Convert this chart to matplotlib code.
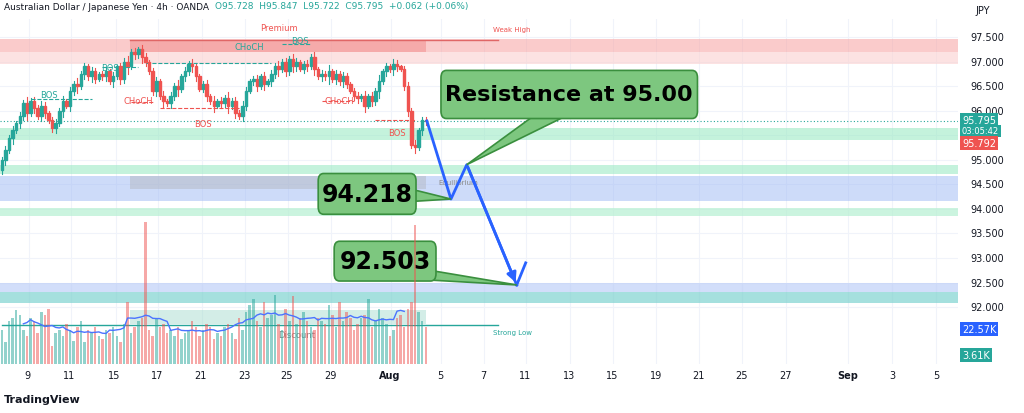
import matplotlib
matplotlib.use("Agg")
import matplotlib.pyplot as plt
from matplotlib.patches import Rectangle, FancyBboxPatch, Polygon
import numpy as np

closes = [95.0, 95.2, 95.45, 95.6, 95.75, 95.9,
          96.15, 95.95, 96.2, 96.05, 95.9, 96.1, 95.95, 95.8,
          95.65, 95.75, 96.0, 96.2, 96.1, 96.4, 96.55, 96.5, 96.75, 96.9,
          96.7, 96.8, 96.65, 96.75, 96.7, 96.8, 96.6, 96.7, 96.9, 96.65,
          97.0, 96.9, 97.2, 97.15, 97.25, 97.1, 97.0,
          96.8, 96.4, 96.6, 96.3, 96.2, 96.15,
          96.3, 96.5, 96.45, 96.7, 96.8, 96.95, 96.9,
          96.7, 96.45, 96.55, 96.3, 96.2, 96.1, 96.2,
          96.15, 96.25, 96.1, 96.2, 95.95, 95.9, 96.1,
          96.4, 96.6, 96.65, 96.5, 96.7, 96.55, 96.6,
          96.75, 96.9, 96.85, 97.0, 96.8, 97.05, 96.9,
          97.0, 96.85, 96.95, 96.9, 97.1, 96.85, 96.7,
          96.75, 96.7, 96.8, 96.65, 96.75, 96.6, 96.7,
          96.55, 96.4, 96.3, 96.25, 96.3, 96.1, 96.3,
          96.2, 96.4, 96.6, 96.8, 96.9, 96.85, 96.95,
          96.9, 96.85, 96.5, 96.0, 95.3, 95.25, 95.6, 95.8, 95.795]
opens = [94.8] + closes[:-1]
wick = [0.08, 0.1, 0.06, 0.12, 0.05, 0.1, 0.08, 0.15, 0.06, 0.1, 0.07, 0.12, 0.09, 0.05]
volumes = [22, 14, 28, 30, 35, 32, 22, 18, 30, 28, 20, 34, 32, 36, 12, 20, 22, 18, 26, 22, 15, 24, 28, 14, 22, 20, 24, 18, 16,
           22, 20, 24, 18, 14, 26, 40, 20, 24, 28, 30, 92, 22, 18, 30, 24, 26, 20, 22, 18, 24, 16, 20, 22, 28, 24, 18, 22, 26,
           24, 16, 20, 18, 24, 26, 20, 16, 30, 22, 34, 38, 42, 28, 24, 40, 30, 32, 45, 26, 22, 36, 28, 44, 26, 30, 34, 28, 24,
           22, 30, 28, 26, 38, 32, 24, 40, 28, 34, 30, 22, 26, 30, 32, 42, 24, 28, 36, 30, 26, 18, 22, 30, 32, 24, 36, 40, 90,
           34, 28, 24, 4]
tick_days = ["9", "11", "15", "17", "21", "23", "25", "29", "Aug", "5", "7", "11", "13", "15", "19", "21", "25", "27", "Sep", "3", "5"]
tick_bars = [7.5, 19.2, 31.7, 43.6, 55.6, 67.8, 79.7, 91.7, 108.3, 122.2, 134.2, 145.8, 158.1, 170, 182.2, 193.9, 206.1, 218.3, 235.6, 247.8, 260]
price_ticks = [92.0, 92.5, 93.0, 93.5, 94.0, 94.5, 95.0, 95.5, 96.0, 96.5, 97.0, 97.5]
target_path_x = [118.3, 125, 129.4, 143.3]
target_path_y = [95.79, 94.2, 94.9, 92.45]

GREEN = "#26a69a"; RED = "#ef5350"
fig = plt.figure(figsize=(10.24, 4.14), dpi=100)
ax = fig.add_axes([0, 1 - 365 / 414, 958 / 1024, 345 / 414])
XMAX = 958 / 3.6
ax.set_xlim(-0.5, XMAX)
ax.set_ylim(90.84, 97.867)
for s in ax.spines.values():
    s.set_visible(False)
ax.set_xticks([]); ax.set_yticks([])
for p in price_ticks:
    ax.axhline(p, color="#f0f3fa", lw=0.8, zorder=0)
for t in tick_bars:
    ax.axvline(t, color="#f0f3fa", lw=0.8, zorder=0)

def zone(x0, x1, y0, y1, c, a, z=1):
    ax.add_patch(Rectangle((x0, y0), x1 - x0, y1 - y0, color=c, alpha=a, lw=0, zorder=z))

zs = 128 / 3.6; ze = 425 / 3.6
zone(-1, XMAX, 97.2, 97.45, "#f7a1a1", 0.55)
zone(zs, ze, 97.2, 97.44, "#f28b8b", 0.5)
zone(-1, XMAX, 96.95, 97.2, "#fbd0d0", 0.6)
ax.plot([zs, 497 / 3.6], [97.44, 97.44], color="#e06666", lw=1, zorder=2)
zone(-1, XMAX, 95.4, 95.65, "#9eeac6", 0.6)
zone(-1, XMAX, 94.7, 94.9, "#9eeac6", 0.6)
zone(-1, XMAX, 94.16, 94.67, "#9db9f5", 0.5)
zone(zs, ze, 94.4, 94.67, "#aaaaaa", 0.35)
zone(-1, XMAX, 93.85, 94.02, "#b6f0d2", 0.7)
zone(-1, XMAX, 92.3, 92.49, "#b4c8f7", 0.6)
zone(-1, XMAX, 92.08, 92.3, "#7fd3d0", 0.7)
zone(zs, ze, 91.65, 91.94, "#a8ddd0", 0.5)
ax.plot([0, 497 / 3.6], [91.63, 91.63], color=GREEN, lw=1, zorder=3)
ax.axhline(95.795, color=GREEN, lw=0.8, ls=(0, (1, 2)), zorder=2)

vax = ax.twinx()
vax.set_ylim(0, 224)
vax.set_axis_off()
n = len(closes)
idx = np.arange(n)
vcol = [GREEN if c >= o else RED for o, c in zip(opens, closes)]
vax.bar(idx, volumes[:n], width=0.7, color=vcol, alpha=0.5, zorder=2)
ma = np.convolve(volumes[:n], np.ones(12) / 12, mode="same")
vax.plot(idx[6:-6], ma[6:-6], color="#4b73ff", lw=1, zorder=3)

for i, (o, c) in enumerate(zip(opens, closes)):
    col = GREEN if c >= o else RED
    w = wick[i % len(wick)]
    ax.plot([i, i], [min(o, c) - w, max(o, c) + w * 0.8], color=col, lw=0.8, zorder=4)
    ax.add_patch(Rectangle((i - 0.35, min(o, c)), 0.7, max(abs(c - o), 0.02), color=col, zorder=5))

lbls = [(13, 96.33, "BOS", GREEN), (30, 96.88, "BOS", GREEN), (69, 97.3, "CHoCH", GREEN), (83, 97.43, "BOS", GREEN),
        (38, 96.2, "CHoCH", RED), (56, 95.74, "BOS", RED), (94, 96.2, "CHoCH", RED), (110, 95.55, "BOS", RED),
        (77, 97.7, "Premium", RED), (142, 97.67, "Weak High", RED), (142, 91.5, "Strong Low", GREEN),
        (82, 91.45, "Discount", "#888888"), (127, 94.55, "Equilibrium", "#888888")]
for x, y, t, c in lbls:
    ax.text(x, y, t, color=c, fontsize=5 if t in ("Weak High", "Strong Low", "Equilibrium") else 6, ha="center", va="center", zorder=6)
for x0, x1, y, c in [(28, 38, 96.88, GREEN), (8, 25, 96.23, GREEN), (36, 42, 96.18, RED), (44, 66, 96.05, RED),
                     (78, 86, 97.35, GREEN), (89, 98, 96.2, RED), (104, 115, 95.82, RED), (40, 75, 96.98, GREEN)]:
    ax.plot([x0, x1], [y, y], color=c, lw=0.8, ls="--", zorder=4)

ax.plot(target_path_x, target_path_y, color="#2962ff", lw=2, zorder=7)
ax.annotate("", xy=(target_path_x[-1], target_path_y[-1]), xytext=(target_path_x[-2], target_path_y[-2]),
            arrowprops=dict(arrowstyle="-|>", color="#2962ff", lw=2, mutation_scale=14), zorder=8)
ax.plot([143.3, 145.8], [92.45, 92.9], color="#2962ff", lw=2, zorder=7)

def callout(x0, x1, y0, y1, text, tip, base, fs):
    ax.add_patch(Polygon([base[0], tip, base[1]], closed=True, fc="#7dc77f", ec="#3a8f3e", lw=1.2, zorder=8))
    ax.add_patch(FancyBboxPatch((x0, y0), x1 - x0, y1 - y0, boxstyle="round,pad=0,rounding_size=1.5",
                                fc="#7dc77f", ec="#3a8f3e", lw=1.2, zorder=9, mutation_aspect=0.1))
    ax.text((x0 + x1) / 2, (y0 + y1) / 2, text, fontsize=fs, fontweight="bold", ha="center", va="center", zorder=10)

callout(440 / 3.6, 697 / 3.6, 95.84, 96.82, "Resistance at 95.00", (129.4, 94.9), [(150, 96.0), (160, 96.0)], 16)
callout(317 / 3.6, 415 / 3.6, 93.89, 94.72, "94.218", (125, 94.2), [(114, 94.15), (114, 94.4)], 17)
callout(333 / 3.6, 435 / 3.6, 92.53, 93.34, "92.503", (143.3, 92.45), [(119, 92.55), (119, 92.75)], 17)

for p in price_ticks:
    if p == 95.5:
        continue
    fig.text(970 / 1024, ax.transData.transform((0, p))[1] / 414, f"{p:.3f}", fontsize=7, va="center", color="#131722")
def tag(y, text, c, fs=7):
    fig.text(962 / 1024, y / 414, text, fontsize=fs, va="center", color="white",
             bbox=dict(boxstyle="square,pad=0.2", fc=c, ec="none"))
tag(414 - 121, "95.795", GREEN); tag(414 - 132, "03:05:42", GREEN, 6); tag(414 - 144, "95.792", RED)
tag(414 - 330, "22.57K", "#2962ff"); tag(414 - 356, "3.61K", GREEN)
fig.text(975 / 1024, 1 - 11 / 414, "JPY", fontsize=7, va="center", color="#131722")
for t, lab in zip(tick_bars, tick_days):
    fig.text(t * 3.6 / 1024, 1 - 376 / 414, lab, fontsize=7, ha="center", va="center",
             fontweight="bold" if lab in ("Aug", "Sep") else "normal", color="#131722")
fig.text(4 / 1024, 1 - 7 / 414, "Australian Dollar / Japanese Yen · 4h · OANDA", fontsize=6.5, va="center", color="#131722")
fig.text(215 / 1024, 1 - 7 / 414, "O95.728  H95.847  L95.722  C95.795  +0.062 (+0.06%)", fontsize=6.5, va="center", color=GREEN)
fig.text(4 / 1024, 1 - 400 / 414, "TradingView", fontsize=8, va="center", color="#131722", fontweight="bold")
fig.savefig("out.png", dpi=100)
